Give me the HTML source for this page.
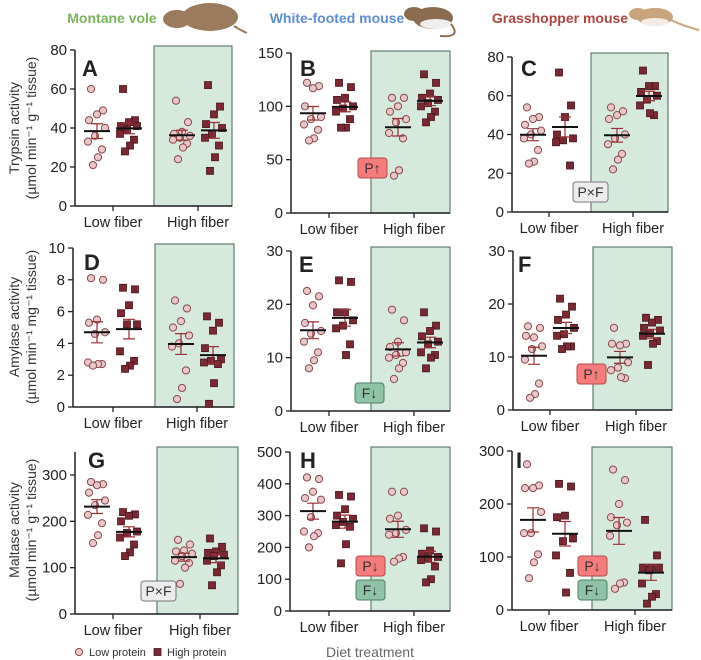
<!DOCTYPE html>
<html><head><meta charset="utf-8"><style>
body{margin:0;background:#fff;}
svg{display:block;font-family:"Liberation Sans",Arial,sans-serif;}
</style></head><body>
<svg id="fig" width="701" height="660" viewBox="0 0 701 660"></svg>
<script>
// ---- data (values per group: LP-LF, HP-LF, LP-HF, HP-HF) ----
const groupLabels = ["Low fiber", "High fiber"];
const seriesLabels = ["Low protein", "High protein"];
const A_lpLf = [60,49,47,44,40,36,33,29,25,21];
const A_hpLf = [60,44,43,41,41,39,37,34,31,28];
const A_lpHf = [54,43,38,37,36,35,34,32,30,24];
const A_hpHf = [62,51,47,42,40,37,35,31,25,18];
const B_lpLf = [122,119,117,100,90,88,83,78,70,68];
const B_hpLf = [122,118,108,106,100,98,95,88,80,80];
const B_lpHf = [108,108,100,95,88,85,75,70,40,35];
const B_hpHf = [130,122,112,108,106,103,100,95,90,85];
const C_lpLf = [54,49,48,45,42,40,38,32,26,25];
const C_hpLf = [72,55,49,40,38,37,36,24];
const C_lpHf = [54,52,50,48,40,38,35,30,27,22];
const C_hpHf = [73,65,65,62,60,58,55,50,51];
const D_lpLf = [8.1,8.0,5.5,5.3,4.7,4.6,2.8,2.7,2.7,2.6];
const D_hpLf = [7.5,7.4,6.4,5.9,5.2,5.2,3.5,2.9,2.6,2.4];
const D_lpHf = [6.7,6.2,5.4,5.0,4.5,4.0,3.8,2.3,1.2,0.5];
const D_hpHf = [5.7,5.3,4.8,3.7,3.0,2.9,2.8,2.7,1.5,0.2];
const E_lpLf = [22.5,21.5,19.8,16.5,15,14.5,13,11,9.5,8];
const E_hpLf = [24.5,24.2,18.5,18.5,17,16,15.5,12.5,10.5];
const E_lpHf = [19,17,13,12,11,10.5,10,9,8,6];
const E_hpHf = [18.5,16,15,14,13,12.5,11,10.5,10,8];
const F_lpLf = [15.8,15.5,13.7,14,12,11.5,9.5,5,3,2.3];
const F_hpLf = [21,19.5,18,17,15.5,14.3,14,12,12,11.5];
const F_lpHf = [15.5,12.5,12.2,12.5,9,8,7.5,6,6.2];
const F_hpHf = [17.4,17,16.5,15.5,15,14.5,14,13,12.5,8.5];
const G_lpLf = [285,280,278,262,245,235,214,196,170,153];
const G_hpLf = [220,215,212,200,178,175,165,150,133,125];
const G_lpHf = [160,150,137,135,130,125,115,110,100,65];
const G_hpHf = [163,145,135,132,128,125,115,105,90,62];
const H_lpLf = [420,415,375,355,350,295,250,245,235,200];
const H_hpLf = [365,360,320,300,290,280,270,265,210,150];
const H_lpHf = [375,375,300,290,255,245,240,170,165,155];
const H_hpHf = [260,250,190,180,170,165,160,140,100,90];
const I_lpLf = [275,235,230,230,185,145,145,105,90,60];
const I_hpLf = [238,233,178,175,135,130,103,70,33];
const I_lpHf = [265,245,200,175,165,160,140,52,50,40];
const I_hpHf = [170,103,80,80,80,75,50,30,25,12];
const A_ticks = [0,20,40,60,80];
const B_ticks = [0,50,100,150];
const C_ticks = [0,20,40,60,80];
const D_ticks = [0,2,4,6,8,10];
const E_ticks = [0,10,20,30];
const F_ticks = [0,10,20,30];
const G_ticks = [0,100,200,300];
const H_ticks = [0,100,200,300,400,500];
const I_ticks = [0,100,200,300];

// ---- layout ----
const panels = [
 {id:"A",ax:75,t1:113,t2:198,y0:206,yTop:50,max:80,top:80,gx1:154,gx2:232,gt:46,data:[A_lpLf,A_hpLf,A_lpHf,A_hpHf],ticks:A_ticks,lx:82,ly:76},
 {id:"B",ax:291,t1:329,t2:414,y0:213,yTop:53,max:150,top:150,gx1:371,gx2:450,gt:51,data:[B_lpLf,B_hpLf,B_lpHf,B_hpHf],ticks:B_ticks,lx:300,ly:76},
 {id:"C",ax:512,t1:549,t2:633,y0:212,yTop:57,max:80,top:80,gx1:591,gx2:668,gt:53,data:[C_lpLf,C_hpLf,C_lpHf,C_hpHf],ticks:C_ticks,lx:521,ly:76},
 {id:"D",ax:73,t1:113,t2:197,y0:407,yTop:248,max:10,top:10,gx1:155,gx2:234,gt:244,data:[D_lpLf,D_hpLf,D_lpHf,D_hpHf],ticks:D_ticks,lx:84,ly:270},
 {id:"E",ax:291,t1:329,t2:414,y0:411,yTop:251,max:30,top:30,gx1:371,gx2:450,gt:247,data:[E_lpLf,E_hpLf,E_lpHf,E_hpHf],ticks:E_ticks,lx:299,ly:272},
 {id:"F",ax:513,t1:550,t2:636,y0:410,yTop:251,max:30,top:30,gx1:593,gx2:672,gt:247,data:[F_lpLf,F_hpLf,F_lpHf,F_hpHf],ticks:F_ticks,lx:518,ly:272},
 {id:"G",ax:75,t1:113,t2:200,y0:614,yTop:475,max:300,top:350,gx1:157,gx2:238,gt:447,data:[G_lpLf,G_hpLf,G_lpHf,G_hpHf],ticks:G_ticks,lx:88,ly:468},
 {id:"H",ax:290,t1:329,t2:414,y0:611,yTop:452,max:500,top:500,gx1:371,gx2:450,gt:447,data:[H_lpLf,H_hpLf,H_lpHf,H_hpHf],ticks:H_ticks,lx:300,ly:468},
 {id:"I",ax:512,t1:549,t2:635,y0:610,yTop:451,max:300,top:300,gx1:592,gx2:672,gt:447,data:[I_lpLf,I_hpLf,I_lpHf,I_hpHf],ticks:I_ticks,lx:516,ly:468}
];
const badges = [
 {t:"P↑",x:358,y:158,c:"red",p:"B"},{t:"P×F",x:573,y:182,c:"gray",p:"C"},
 {t:"F↓",x:355,y:383,c:"green",p:"E"},{t:"P↑",x:577,y:364,c:"red",p:"F"},
 {t:"P×F",x:141,y:581,c:"gray",p:"G"},{t:"P↓",x:356,y:556,c:"red",p:"H"},
 {t:"F↓",x:356,y:580,c:"green",p:"H"},{t:"P↓",x:578,y:556,c:"red",p:"I"},{t:"F↓",x:578,y:580,c:"green",p:"I"}
];
const NS="http://www.w3.org/2000/svg";
const svg=document.getElementById("fig");
function el(tag,attrs,parent,text){const e=document.createElementNS(NS,tag);for(const k in attrs)e.setAttribute(k,attrs[k]);if(text!==undefined)e.textContent=text;(parent||svg).appendChild(e);return e;}
const jit=[-6,6,0,-8,8,-2,-9,5,1,-4];
function mean(a){return a.reduce((s,v)=>s+v,0)/a.length;}
function sem(a){const m=mean(a);return Math.sqrt(a.reduce((s,v)=>s+(v-m)*(v-m),0)/(a.length-1))/Math.sqrt(a.length);}

panels.forEach(p=>{
  const g=el("g",{});
  
  
  const y=v=>p.y0-(v/p.max)*(p.y0-p.yTop);
  const bx=el("rect",{x:p.gx1,y:p.gt,width:p.gx2-p.gx1,height:p.y0-p.gt,fill:"#d5e9dc",stroke:"#5f7d6e","stroke-width":1.2},g);
  
  
  const ya=el("line",{x1:p.ax,y1:y(p.top),x2:p.ax,y2:p.y0,stroke:"#222","stroke-width":1.5},g);
  
  
  const xa=el("line",{x1:p.ax,y1:p.y0,x2:p.gx2,y2:p.y0,stroke:"#222","stroke-width":1.5},g);
  
  
  p.ticks.forEach(t=>{
    el("line",{x1:p.ax-5,y1:y(t),x2:p.ax,y2:y(t),stroke:"#222","stroke-width":1.3},g);
    const tl=el("text",{x:p.ax-8,y:y(t)+5,"text-anchor":"end","font-size":15,fill:"#222"},g,String(t));
    
    
  });
  [p.t1,p.t2].forEach((tx,i)=>{
    el("line",{x1:tx,y1:p.y0,x2:tx,y2:p.y0+5,stroke:"#222","stroke-width":1.3},g);
    const xl=el("text",{x:tx,y:p.y0+21,"text-anchor":"middle","font-size":14.5,fill:"#222"},g,groupLabels[i]);
    
    
  });
  const lt=el("text",{x:p.lx,y:p.ly,"font-size":22,"font-weight":"bold",fill:"#222"},g,p.id);
  
  
  const centers=[p.t1-16,p.t1+16,p.t2-16,p.t2+16];
  p.data.forEach((arr,gi)=>{
    const cx=centers[gi], hp=gi%2===1;
    arr.forEach((v,i)=>{
      const px=cx+jit[i%jit.length], py=y(v);
      let m;
      if(hp){m=el("rect",{x:px-3.5,y:py-3.5,width:7,height:7,fill:"#7a2833",stroke:"#4a161c","stroke-width":0.8},g);}
      else{m=el("circle",{cx:px,cy:py,r:3.6,fill:"#e9c6c8",stroke:"#8a4a4e","stroke-width":1},g);}
      
      
    });
    const mu=mean(arr), se=sem(arr);
    const eb=el("path",{d:`M${cx} ${y(mu+se)}V${y(mu-se)}M${cx-6} ${y(mu+se)}H${cx+6}M${cx-6} ${y(mu-se)}H${cx+6}`,stroke:"#9a2f35","stroke-width":1.2,fill:"none"},g);
    
    
    const ml=el("line",{x1:cx-13,y1:y(mu),x2:cx+13,y2:y(mu),stroke:"#111","stroke-width":2},g);
    
    
  });
});
const bc={red:["#f47c7c","#b84848"],gray:["#ececec","#777"],green:["#8fc3a8","#4d7f66"]};
badges.forEach(b=>{
  const w=b.t.length>2?35:29;
  const r=el("rect",{x:b.x,y:b.y,width:w,height:20,rx:3,fill:bc[b.c][0],stroke:bc[b.c][1],"stroke-width":1});
  
  
  const t=el("text",{x:b.x+w/2,y:b.y+15,"text-anchor":"middle","font-size":14,fill:"#333"},svg,b.t);
  
  
});
</script>
<svg style="position:absolute;left:0;top:0" width="701" height="660">
  <g font-family="Liberation Sans, Arial, sans-serif">
    <text x="112" y="23" text-anchor="middle" font-size="14" font-weight="bold" fill="#7ab55c">Montane vole</text>
    <g>
      <ellipse cx="210" cy="17" rx="28" ry="14" fill="#9b7b5e"/>
      <ellipse cx="177" cy="19" rx="14" ry="9" fill="#9b7b5e"/>
      <path d="M234 26 Q242 31 247 33" stroke="#9b7b5e" stroke-width="2" fill="none"/>
    </g>
    <text x="337" y="23" text-anchor="middle" font-size="14" font-weight="bold" fill="#5b8ed6">White-footed mouse</text>
    <g>
      <ellipse cx="433" cy="18" rx="20" ry="11" fill="#8b6c50"/>
      <ellipse cx="436" cy="24" rx="16" ry="5" fill="#eee"/>
      <ellipse cx="414" cy="14" rx="10" ry="7" fill="#8b6c50"/>
      <path d="M451 24 Q462 38 440 36" stroke="#8b6c50" stroke-width="2" fill="none"/>
    </g>
    <text x="560" y="23" text-anchor="middle" font-size="14" font-weight="bold" fill="#b0453c">Grasshopper mouse</text>
    <g>
      <ellipse cx="655" cy="17" rx="18" ry="9" fill="#c9a47c"/>
      <ellipse cx="655" cy="22" rx="14" ry="4" fill="#f2ece4"/>
      <ellipse cx="638" cy="14" rx="9" ry="6" fill="#c9a47c"/>
      <path d="M671 20 Q683 26 699 30" stroke="#c9a47c" stroke-width="2" fill="none"/>
    </g>
    <g font-size="14" fill="#333" text-anchor="middle">
      <text transform="translate(19,128) rotate(-90)">Trypsin activity</text>
      <text transform="translate(36,128) rotate(-90)">(µmol min⁻¹ g⁻¹ tissue)</text>
      <text transform="translate(19,327) rotate(-90)">Amylase activity</text>
      <text transform="translate(36,327) rotate(-90)">(µmol min⁻¹ mg⁻¹ tissue)</text>
      <text transform="translate(19,530) rotate(-90)">Maltase activity</text>
      <text transform="translate(36,530) rotate(-90)">(µmol min⁻¹ g⁻¹ tissue)</text>
    </g>
    <g>
      <circle cx="79" cy="652" r="3.6" fill="#e9c6c8" stroke="#8a4a4e"/>
      <text x="89" y="656" font-size="11" fill="#333">Low protein</text>
      <rect x="154" y="648.5" width="7" height="7" fill="#7a2833" stroke="#4a161c" stroke-width="0.8"/>
      <text x="167" y="656" font-size="11" fill="#333">High protein</text>
    </g>
    <text x="370" y="657" text-anchor="middle" font-size="14" fill="#666">Diet treatment</text>
  </g>
</svg>
</body></html>
